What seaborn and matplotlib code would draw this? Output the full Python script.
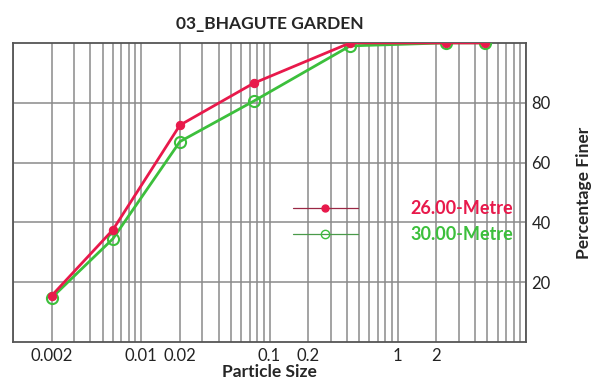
import matplotlib
matplotlib.use("Agg")
import matplotlib.pyplot as plt
import seaborn as sns
import numpy as np
import pandas as pd
from matplotlib.lines import Line2D
from matplotlib.ticker import FixedLocator, NullFormatter

# Data
particle_size = [0.002, 0.006, 0.02, 0.075, 0.425, 2.36, 4.75]
finer_26m = [15.5, 37.5, 72.5, 86.5, 100, 100, 100]
finer_30m = [14.8, 34.5, 67.0, 80.5, 99, 100, 100]
series_names = ["26.00-Metre", "30.00-Metre"]
x_tick_values = [0.002, 0.01, 0.02, 0.1, 0.2, 1, 2]
x_tick_labels = ["0.002", "0.01", "0.02", "0.1", "0.2", "1", "2"]
y_tick_values = [20, 40, 60, 80]

sns.set_style("white")
plt.rcParams['font.family'] = ['Lato', 'DejaVu Sans']

RED = "#e8194b"
GREEN = "#3cbf3c"

fig = plt.figure(figsize=(5.95, 3.83), dpi=100)
ax = fig.add_axes([0.022, 0.107, 0.862, 0.781])

df26 = pd.DataFrame({"size": particle_size, "finer": finer_26m})
df30 = pd.DataFrame({"size": particle_size, "finer": finer_30m})

sns.lineplot(data=df30, x="size", y="finer", ax=ax, color=GREEN, lw=2.0,
             marker="o", markersize=8, markerfacecolor="none",
             markeredgecolor=GREEN, markeredgewidth=1.5, zorder=3)
sns.lineplot(data=df26, x="size", y="finer", ax=ax, color=RED, lw=2.0,
             marker="o", markersize=6, markerfacecolor=RED,
             markeredgecolor=RED, zorder=4)

ax.set_xscale("log")
ax.set_xlim(0.001, 10)
ax.set_ylim(0, 100)

minor = [m * 10.0**e for e in range(-3, 1) for m in range(1, 10)] + [10]
ax.xaxis.set_minor_locator(FixedLocator(minor))
ax.xaxis.set_minor_formatter(NullFormatter())
ax.set_xticks(x_tick_values)
ax.set_xticklabels(x_tick_labels)
ax.set_yticks(y_tick_values)
ax.yaxis.tick_right()
ax.yaxis.set_label_position("right")

ax.grid(True, which="both", axis="x", color="#8a8a8a", lw=1.1)
ax.grid(True, which="major", axis="y", color="#8a8a8a", lw=1.1)
ax.set_axisbelow(True)
ax.tick_params(axis="both", which="both", length=0, labelsize=12, colors="#222222")
ax.tick_params(axis="x", pad=4)
ax.tick_params(axis="y", pad=4)
for s in ax.spines.values():
    s.set_color("#555555")
    s.set_linewidth(1.3)

ax.set_xlabel("Particle Size", fontsize=12.5, fontweight="bold", labelpad=0)
ax.set_ylabel("Percentage Finer", fontsize=12.5, fontweight="bold", labelpad=18)
ax.set_title("03_BHAGUTE GARDEN", fontsize=12.5, fontweight="bold", pad=10)

handles = [
    Line2D([0], [0], color="#9a2845", lw=0.9, marker="o", markersize=5,
           markerfacecolor=RED, markeredgecolor=RED),
    Line2D([0], [0], color="#4a9a4a", lw=0.9, marker="o", markersize=6,
           markerfacecolor="none", markeredgecolor=GREEN),
]
leg = ax.legend(handles, series_names, loc="center left",
                bbox_to_anchor=(0.514, 0.403), frameon=False,
                handlelength=3.6, handletextpad=2.9, labelspacing=0.5,
                prop={"size": 13, "weight": "bold"})
for t, c in zip(leg.get_texts(), [RED, GREEN]):
    t.set_color(c)

fig.savefig("out.png", dpi=100)
